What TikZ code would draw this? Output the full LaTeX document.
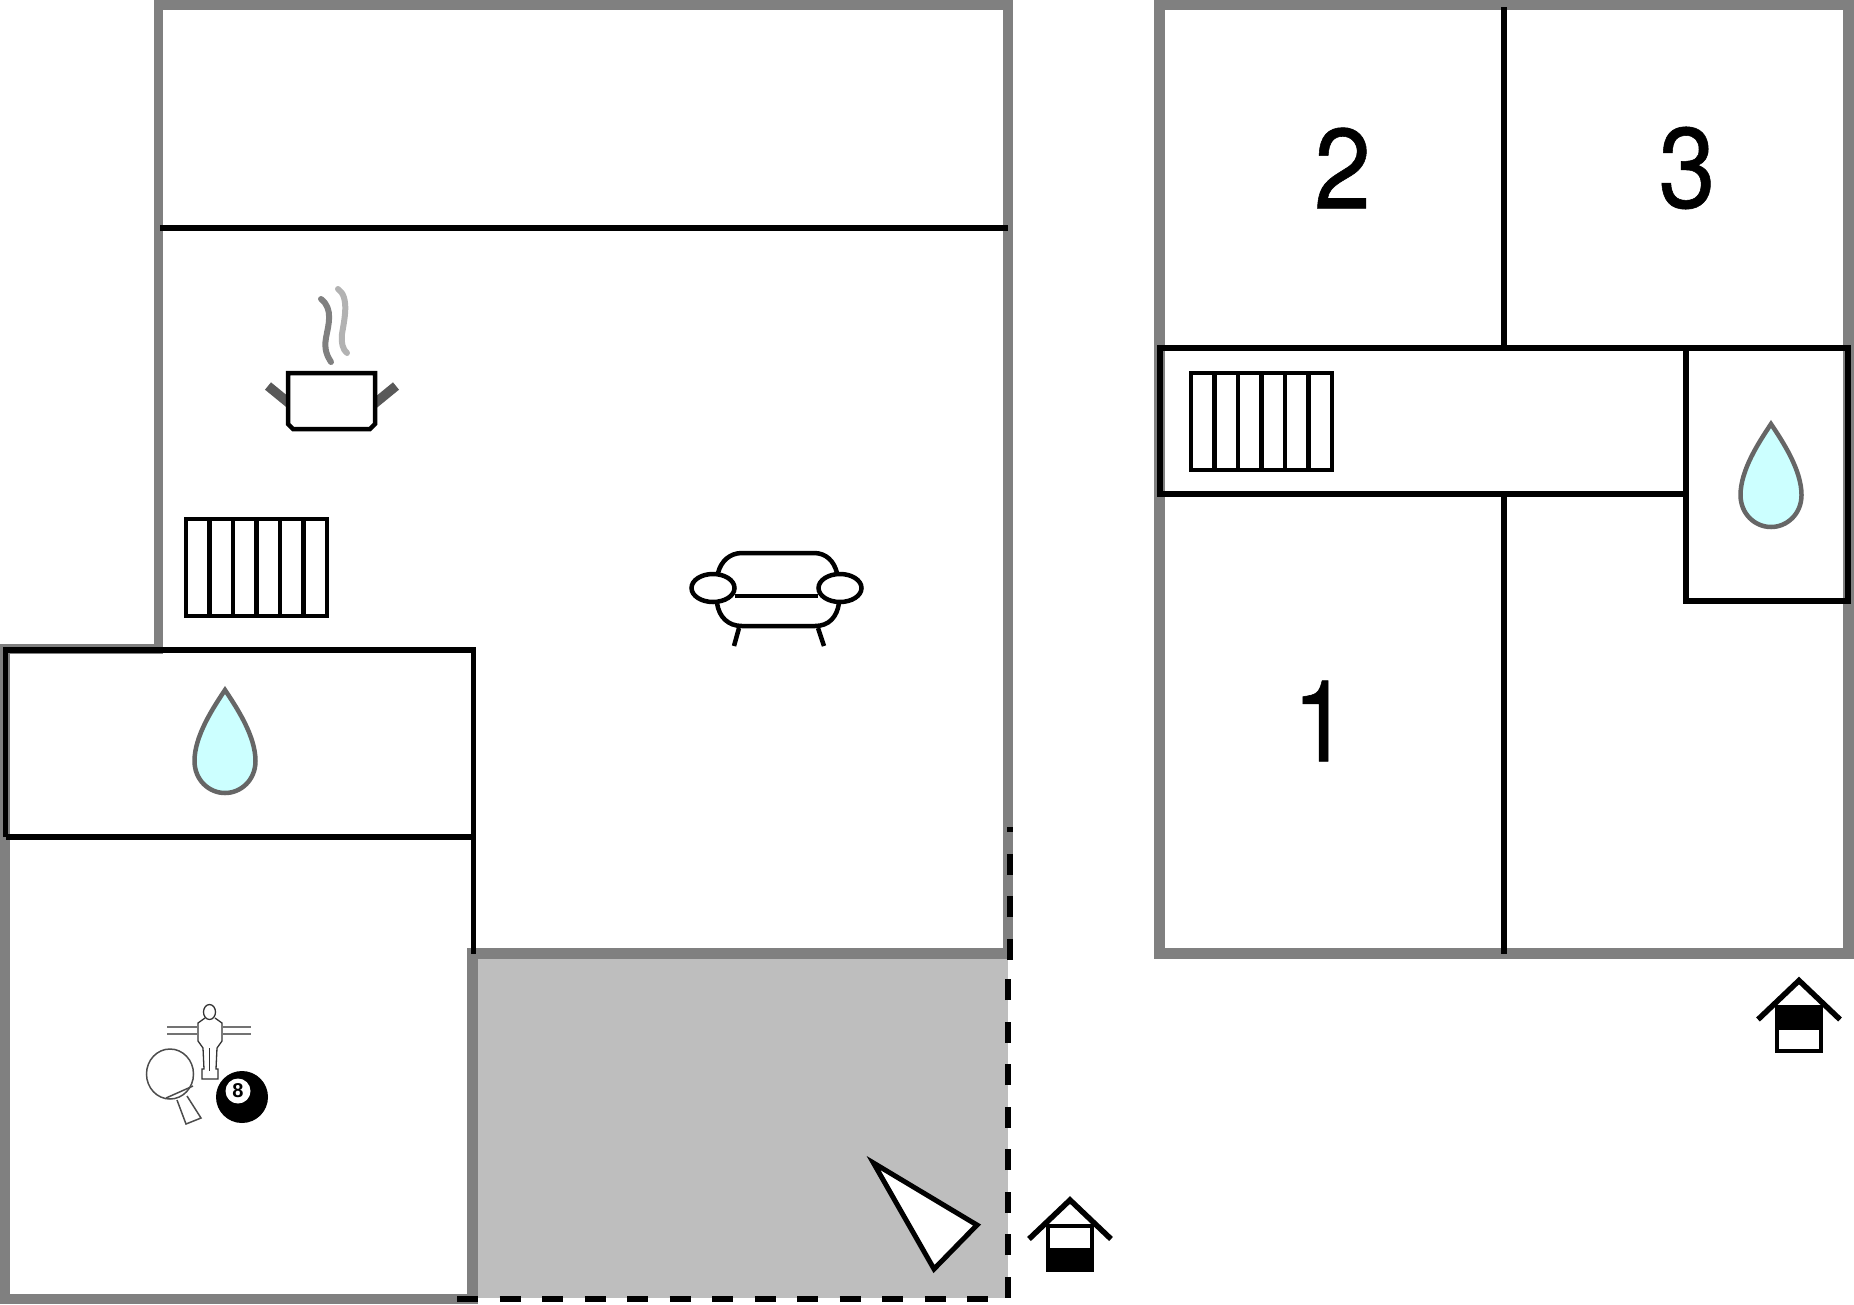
\documentclass[tikz,border=0pt]{standalone}
\usepackage{fontspec}
\setmainfont{Liberation Sans}
\newfontfamily\roomfont[RawFeature={embolden=0.5}]{TeX Gyre Heros}
\definecolor{wallgray}{HTML}{808080}
\definecolor{terracegray}{HTML}{BEBEBE}
\definecolor{dropblue}{HTML}{CCFFFF}
\newcommand{\roomdigit}[1]{\scalebox{.9}[1]{\roomfont\fontsize{114}{114}\selectfont #1}}
\tikzset{
  wall/.style={fill=wallgray},
  partition/.style={draw=black, line width=5.5pt},
  symbol/.style={draw=black, line width=4.5pt},
  roomno/.style={inner sep=0pt},
  radiator/.pic={
    \draw[symbol, fill=white] (0,0) rectangle (141,97);
    \foreach \i in {1,...,5} {
      \draw[symbol] (\i*23.5,0) -- (\i*23.5,97);
    }
  },
  waterdrop/.pic={
    \draw[draw=black!60, line width=4.5pt, fill=dropblue, miter limit=3]
      (0,2) .. controls (12,20) and (30.5,48) .. (30.5,73)
      .. controls (30.5,92) and (16,105) .. (0,105)
      .. controls (-16,105) and (-30.5,92) .. (-30.5,73)
      .. controls (-30.5,48) and (-12,20) .. (0,2) -- cycle;
  },
  entrance/.pic={
    \draw[line width=5.5pt, miter limit=4] (-41,43) -- (0,4) -- (41,43);
    \draw[line width=4pt, fill=white] (-22,30) rectangle (22,74);
  }
}
\begin{document}
\begin{tikzpicture}[x=1pt, y=-1pt]
  \useasboundingbox (0,0) rectangle (1854,1304);

  % terrace
  \fill[terracegray] (476,955) rectangle (1008,1298);

  % left house, walls
  \fill[wall] (154,0) rectangle (1013,10);
  \fill[wall] (154,0) rectangle (163,654);
  \fill[wall] (1003,0) rectangle (1013,959);
  \fill[wall] (0,644) rectangle (163,654);
  \fill[wall] (0,644) rectangle (10,1304);
  \fill[wall] (0,1294) rectangle (478,1304);
  \fill[wall] (467,948) rectangle (478,1304);
  \fill[wall] (467,948) rectangle (1013,959);

  % right house, walls
  \fill[wall] (1154,0) rectangle (1854,10);
  \fill[wall] (1154,0) rectangle (1165,959);
  \fill[wall] (1843,0) rectangle (1854,959);
  \fill[wall] (1154,948) rectangle (1854,959);

  \begin{scope}[yshift=-1pt]
  % left house, inner lines
  \draw[partition] (160,227) -- (1008,227);
  \draw[partition] (5.5,836) -- (5.5,649) -- (473.5,649) -- (473.5,953);
  \draw[partition] (5.5,836) -- (473.5,836);
  \draw[line width=5.5pt, dash pattern=on 21pt off 21.5pt]
    (457,1298) -- (1008,1298) -- (1008,959) -- (1010,959) -- (1010,826);

  % right house, inner lines
  \draw[partition] (1504,6) -- (1504,347);
  \draw[partition] (1504,493) -- (1504,953);
  \draw[partition] (1686,493) -- (1160,493) -- (1160,347) -- (1686,347) -- cycle;
  \draw[partition] (1686,347) -- (1848,347) -- (1848,600) -- (1686,600) -- cycle;

  % room numbers
  \node[roomno] (roomtwo) at (1342.5,167) {\roomdigit{2}};
  \node[roomno] (roomthree) at (1687,167) {\roomdigit{3}};
  \node[roomno] (roomone) at (1321,720) {\roomdigit{1}};

  \pic (radiatorleft) at (186,518) {radiator};
  \pic (radiatorright) at (1191,372) {radiator};
  \pic (dropleft) at (225,687) {waterdrop};
  \pic (dropright) at (1771,421) {waterdrop};

  % cooking pot
  \draw[line width=9.5pt, draw=black!65] (268,385) -- (290,403);
  \draw[line width=9.5pt, draw=black!65] (396,385) -- (374,403);
  \draw[symbol, fill=white] (288,372) -- (375,372) -- (375,423) -- (370,428)
    -- (293,428) -- (288,423) -- cycle;
  \draw[line width=6pt, line cap=round, draw=wallgray] (321,298)
    .. controls (334,308) and (328,325) .. (326,337) .. controls (324,348) and (327,355) .. (331,361);
  \draw[line width=6pt, line cap=round, draw=black!30] (338,288)
    .. controls (350,296) and (344,320) .. (342,333) .. controls (341,342) and (343,349) .. (347,352);

  % sofa
  \draw[symbol] (718,572) .. controls (721,560) and (730,552) .. (742,552) -- (814,552)
    .. controls (826,552) and (834,560) .. (837,572);
  \draw[symbol] (717,602) .. controls (719,616) and (728,625) .. (742,625) -- (815,625)
    .. controls (829,625) and (837,616) .. (839,602);
  \draw[symbol] (735,595) -- (818,595);
  \draw[symbol] (739,627) -- (734,645);
  \draw[symbol] (818,627) -- (824,645);
  \draw[symbol, fill=white] (713,587) ellipse [x radius=21.5, y radius=14];
  \draw[symbol, fill=white] (840,587) ellipse [x radius=21.5, y radius=14];

  % table football
  \foreach \y in {1026,1033} {
    \draw[line width=1.6pt, draw=black!55] (167,\y) -- (197,\y);
    \draw[line width=1.6pt, draw=black!55] (223,\y) -- (251,\y);
  }
  \draw[line width=1.3pt, draw=black!80] (205,1017) -- (198,1022) -- (198,1040) -- (203,1047)
    -- (204,1068) -- (202,1068) -- (202,1078) -- (218,1078) -- (218,1068) -- (216,1068)
    -- (217,1047) -- (222,1040) -- (222,1022) -- (215,1017);
  \draw[line width=1.3pt, draw=black!80] (209.5,1011) ellipse [x radius=6, y radius=7.5];
  \draw[line width=1.3pt, draw=black!80] (209.5,1047) -- (209.5,1070);

  % table tennis bat
  \draw[line width=1.5pt, draw=black!70] (170,1073) ellipse [x radius=23.5, y radius=25];
  \draw[line width=1.5pt, draw=black!70] (166,1097) -- (193,1085);
  \draw[line width=1.5pt, draw=black!70] (177,1099) -- (186,1123) -- (201,1117) -- (187,1095);

  % billiard ball
  \fill (242,1096) circle [radius=26];
  \fill[white] (238,1090) circle [radius=12.5];
  \node[font=\fontsize{20}{20}\selectfont\bfseries, inner sep=0pt] (eightball) at (238,1090) {8};

  % view direction
  \draw[line width=5pt, fill=white, miter limit=6] (873.5,1162) -- (977,1224) -- (934,1268) -- cycle;

  % entrances
  \pic (entranceleft) at (1070,1195) {entrance};
  \fill (1046,1247) rectangle (1094,1271);
  \pic (entranceright) at (1799,975.5) {entrance};
  \fill (1775,1005) rectangle (1823,1029);
  \end{scope}
\end{tikzpicture}
\end{document}
